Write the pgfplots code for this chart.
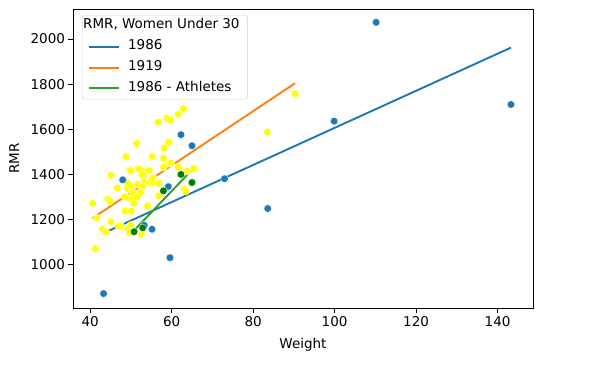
\documentclass[border=0pt]{standalone}
\usepackage{fontspec}
\setmainfont{DejaVu Sans}
\usepackage{pgfplots}
\pgfplotsset{compat=1.18}
\definecolor{mblue}{RGB}{31,119,180}
\definecolor{morange}{RGB}{255,127,14}
\definecolor{mgreen}{RGB}{44,160,44}
\definecolor{dgreen}{RGB}{0,128,0}
\definecolor{myellow}{RGB}{255,255,0}
\begin{document}
\begin{tikzpicture}[font=\fontsize{13.5bp}{16bp}\selectfont]
\useasboundingbox (-73bp,-64bp) rectangle (525bp,308bp);
\begin{axis}[
  at={(0,0)}, anchor=south west,
  scale only axis, width=460bp, height=299bp,
  xmin=35.8, xmax=148.7, ymin=808, ymax=2133,
  xtick={40,60,80,100,120,140},
  ytick={1000,1200,1400,1600,1800,2000},
  /pgf/number format/assume math mode=true,
  /pgf/number format/set thousands separator={},
  tick align=outside, tick pos=left,
  major tick length=4.5bp,
  every tick/.style={black, line width=0.8bp},
  axis line style={black, line width=0.8bp},
  xlabel={Weight}, ylabel={RMR},
  xlabel style={anchor=center, at={(axis description cs:0.5,-0.124)}},
  ylabel style={anchor=center, at={(axis description cs:-0.128,0.5)}},
  legend cell align=left,
  legend image code/.code={\draw[#1, line width=1.9bp] (0bp,0bp) -- (30bp,0bp);},
  legend style={at={(0.0196,0.98)}, anchor=north west,
    draw=black!20, rounded corners=3bp, fill=white, fill opacity=0.8, text opacity=1,
    font=\fontsize{13.5bp}{16bp}\selectfont,
    nodes={text depth=0.22em, text height=0.76em, inner sep=2bp},
    row sep=7bp, column sep=6bp, inner xsep=6bp, inner ysep=4bp},
]
% 1919 data (yellow)
\addplot[only marks, mark=*, mark size=3.8bp, mark options={draw=white, line width=0.3bp, fill=myellow}, forget plot] coordinates {
(40.6,1272) (41.7,1206) (41.3,1072) (43.0,1157) (43.9,1146) (44.3,1290) (44.9,1281)
(45.1,1396) (45.1,1190) (46.7,1340) (47.5,1172) (48.8,1479) (48.6,1237) (49.2,1361)
(49.2,1337) (49.7,1420) (49.6,1296) (50.1,1237) (50.1,1349) (49.2,1160) (49.7,1143)
(50.5,1296) (50.7,1272) (51.4,1537) (51.8,1426) (51.6,1355) (52.4,1320) (52.6,1134)
(52.7,1417) (53.1,1393) (53.3,1367) (54.1,1261) (54.4,1417) (54.8,1361) (55.2,1479)
(55.4,1367) (56.7,1632) (56.9,1361) (56.9,1305) (58.0,1473) (58.0,1432) (58.2,1517)
(58.9,1649) (59.3,1543) (59.5,1449) (59.7,1641) (61.6,1666) (61.7,1432) (62.9,1691)
(63.1,1334) (63.5,1325) (63.8,1414) (65.5,1426) (83.5,1588) (90.3,1757)
(50.0,1417) (52.1,1423) (52.7,1401) (54.5,1417) (59.9,1450) (50.5,1320) (51.5,1300)
(53.0,1350) (55.5,1385) (48.5,1300) (47.0,1170) (50.0,1175)
};
% 1986 data (blue)
\addplot[only marks, mark=*, mark size=3.8bp, mark options={draw=white, line width=0.3bp, fill=mblue}, forget plot] coordinates {
(43.3,872) (48.0,1376) (59.2,1346) (62.3,1576) (65.0,1527) (53.3,1175) (55.2,1157)
(59.6,1031) (73.0,1381) (83.6,1249) (99.9,1636) (110.2,2074) (143.3,1710)
};
% athletes (green)
\addplot[only marks, mark=*, mark size=3.8bp, mark options={draw=white, line width=0.3bp, fill=dgreen}, forget plot] coordinates {
(50.8,1146) (52.9,1163) (58.0,1327) (62.3,1400) (65.0,1364)
};
\addlegendimage{empty legend}
\addlegendentry{\hspace{-45bp}RMR, Women Under 30}
\addplot[mblue, line width=1.9bp] coordinates {(43.3,1140) (143.3,1962)};
\addlegendentry{1986}
\addplot[morange, line width=1.9bp] coordinates {(40.6,1206) (90.3,1804)};
\addlegendentry{1919}
\addplot[mgreen, line width=1.9bp] coordinates {(50.8,1152) (65.0,1420)};
\addlegendentry{1986 - Athletes}
\end{axis}
\end{tikzpicture}
\end{document}
